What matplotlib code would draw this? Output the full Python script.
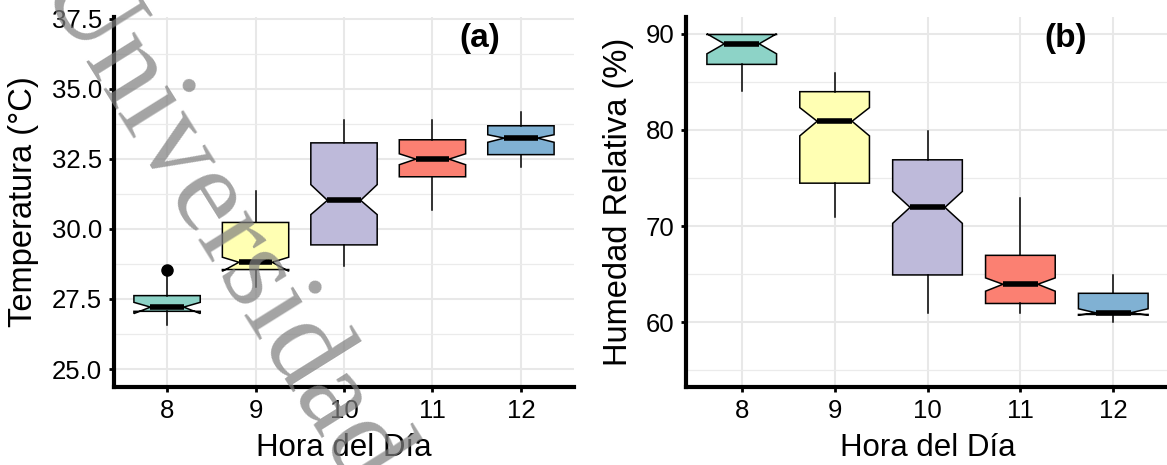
import numpy as np
import matplotlib
matplotlib.use("Agg")
import matplotlib.pyplot as plt
from matplotlib.ticker import MultipleLocator

plt.rcParams['font.family'] = ['Liberation Sans', 'DejaVu Sans']

# hours of the day (categories)
horas = ["8", "9", "10", "11", "12"]
colores = ["#8DD3C7", "#FFFFB3", "#BEBADA", "#FB8072", "#80B1D3"]

# (a) temperature
temp_whislo = [26.58, 27.93, 28.66, 30.69, 32.20]
temp_q1 = [27.06, 28.55, 29.43, 31.86, 32.65]
temp_med = [27.21, 28.81, 31.02, 32.49, 33.24]
temp_q3 = [27.62, 30.23, 33.07, 33.18, 33.68]
temp_whishi = [28.33, 31.37, 33.87, 33.87, 34.16]
temp_cilo = [26.98, 28.49, 30.51, 32.29, 33.09]
temp_cihi = [27.38, 28.99, 31.58, 32.68, 33.36]
temp_fliers = [[28.55], [], [], [], []]

# (b) relative humidity
hum_whislo = [84.05, 70.97, 61.0, 61.0, 60.0]
hum_q1 = [86.82, 74.46, 64.91, 61.94, 60.80]
hum_med = [88.96, 80.90, 71.94, 63.94, 60.97]
hum_q3 = [89.93, 83.98, 76.89, 66.95, 63.0]
hum_whishi = [89.93, 85.88, 79.90, 72.90, 64.95]
hum_cilo = [87.92, 79.38, 70.28, 63.22, 60.72]
hum_cihi = [90.0, 82.32, 73.60, 64.60, 61.39]
hum_fliers = [[], [], [], [], []]


def make_stats(whislo, q1, med, q3, whishi, cilo, cihi, fliers):
    stats = []
    for i in range(len(horas)):
        stats.append(dict(whislo=whislo[i], q1=q1[i], med=med[i], q3=q3[i],
                          whishi=whishi[i], cilo=cilo[i], cihi=cihi[i],
                          fliers=np.array(fliers[i]), label=horas[i]))
    return stats


def draw_panel(ax, stats, ylim, major, minor, ylabel, tag, fmt):
    pos = np.arange(1, len(horas) + 1)
    bp = ax.bxp(stats, positions=pos, widths=0.75, shownotches=True, showcaps=False,
                patch_artist=True,
                boxprops=dict(edgecolor="black", linewidth=1.1),
                whiskerprops=dict(color="black", linewidth=1.1),
                medianprops=dict(color="black", linewidth=4, solid_capstyle="butt"),
                flierprops=dict(marker="o", markerfacecolor="black",
                                markeredgecolor="black", markersize=8))
    for patch, c in zip(bp["boxes"], colores):
        patch.set_facecolor(c)
    ax.set_xlim(0.4, 5.6)
    ax.set_ylim(*ylim)
    ax.set_xticks(pos)
    ax.set_xticklabels(horas)
    ax.yaxis.set_major_locator(MultipleLocator(major))
    ax.yaxis.set_minor_locator(MultipleLocator(minor))
    ax.yaxis.set_major_formatter(fmt)
    ax.grid(True, which="major", color="#E8E8E8", linewidth=1.5, zorder=0)
    ax.grid(True, which="minor", axis="y", color="#EBEBEB", linewidth=0.9, zorder=0)
    ax.set_axisbelow(True)
    for s in ["top", "right"]:
        ax.spines[s].set_visible(False)
    for s in ["left", "bottom"]:
        ax.spines[s].set_linewidth(3)
    ax.tick_params(axis="both", which="major", direction="out", length=3.5, width=2,
                   labelsize=18.5, pad=5, colors="black")
    ax.tick_params(axis="y", which="minor", length=0)
    ax.set_xlabel("Hora del Día", fontsize=22.5, va="center")
    ax.set_ylabel(ylabel, fontsize=23.5, va="center")
    ax.text(tag[0], 0.943, tag[1], transform=ax.transAxes, fontsize=24,
            fontweight="bold", ha="center", va="center")


fig = plt.figure(figsize=(11.67, 4.65), dpi=100)
ax1 = fig.add_axes([114 / 1167, 1 - 387 / 465, 460 / 1167, 370 / 465])
ax2 = fig.add_axes([686 / 1167, 1 - 387 / 465, 483 / 1167, 370 / 465])

draw_panel(ax1, make_stats(temp_whislo, temp_q1, temp_med, temp_q3, temp_whishi,
                           temp_cilo, temp_cihi, temp_fliers),
           (24.36, 37.56), 2.5, 1.25, "Temperatura (°C)", (0.796, "(a)"), "{x:.1f}")
draw_panel(ax2, make_stats(hum_whislo, hum_q1, hum_med, hum_q3, hum_whishi,
                           hum_cilo, hum_cihi, hum_fliers),
           (53.25, 91.75), 10, 5, "Humedad Relativa (%)", (0.787, "(b)"), "{x:.0f}")

ax1.yaxis.set_label_coords(-0.196, 0.5)
ax2.yaxis.set_label_coords(-0.139, 0.5)
ax1.xaxis.set_label_coords(0.5, -0.165)
ax2.xaxis.set_label_coords(0.5, -0.165)

# watermark
fig.text(36 / 1167, 1 + 14 / 465, "Universidad", rotation=-58, rotation_mode="anchor",
         ha="left", va="baseline", fontsize=88, family=["Liberation Serif", "DejaVu Serif"],
         color="#808080", alpha=0.72, zorder=10)

fig.savefig("out.png", dpi=100)
